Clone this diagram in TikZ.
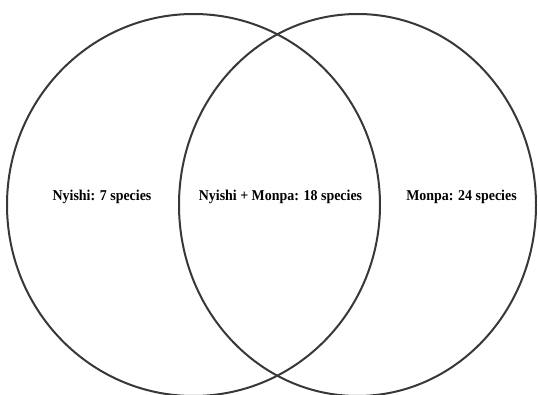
\documentclass[tikz,border=0pt]{standalone}
\usepackage{fontspec}
\setmainfont{Liberation Serif}
\usepackage{tikz}
\usetikzlibrary{shapes.geometric, positioning}
\definecolor{ringgray}{HTML}{383838}

\begin{document}
\begin{tikzpicture}[
    x=1pt, y=1pt,
    ring/.style={ellipse, draw=ringgray, line width=2pt, inner sep=0pt, minimum height=382pt},
    lab/.style={font=\bfseries\fontsize{15}{17}\selectfont, inner sep=0pt, xscale=0.93},
]
    \useasboundingbox (0,0) rectangle (538,394);
    \clip (0,0) rectangle (538,394);
    \node[ring, minimum width=373pt] (nyishi) at (193.5,189) {};
    \node[ring, minimum width=357pt] (monpa) at (357.5,189) {};
    \node[lab] (nyishilab) at (102,197) {Nyishi: 7 species};
    \node[lab] (bothlab) at (280.5,197) {Nyishi + Monpa: 18 species};
    \node[lab] (monpalab) at (461.5,197) {Monpa: 24 species};
\end{tikzpicture}
\end{document}
